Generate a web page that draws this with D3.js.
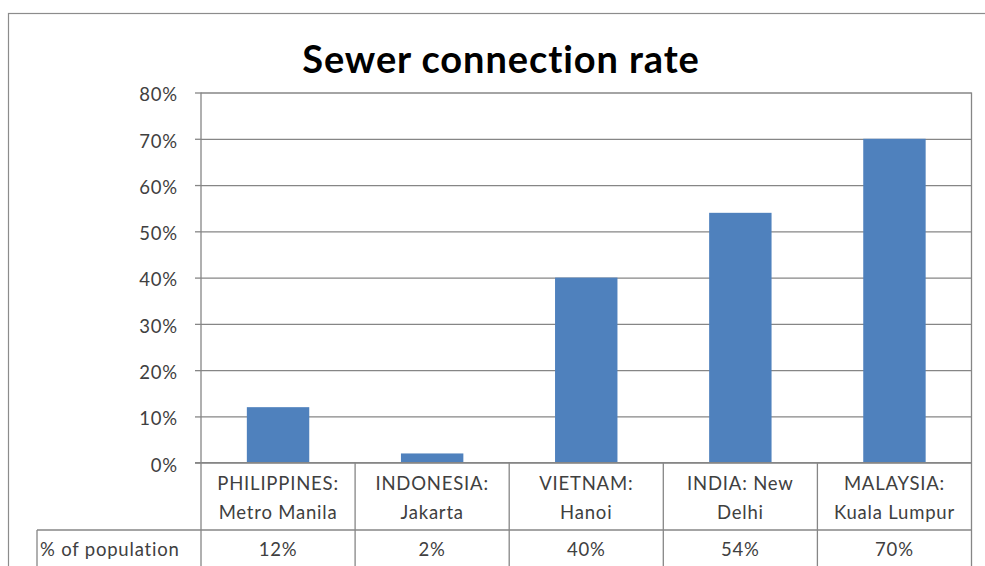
<!DOCTYPE html>
<html>
<head>
<meta charset="utf-8">
<script src="https://cdn.jsdelivr.net/npm/d3@7"></script>
<style>
  html, body { margin: 0; padding: 0; background: #fff; }
  svg { display: block; }
  text { font-family: Lato, "Open Sans", sans-serif; }
</style>
</head>
<body>
<svg id="chart" width="985" height="566"></svg>
<script>
// Sewer connection rate by city, share of population served
const categories = ["PHILIPPINES: Metro Manila", "INDONESIA: Jakarta", "VIETNAM: Hanoi", "INDIA: New Delhi", "MALAYSIA: Kuala Lumpur"];
const categoryLines = [["PHILIPPINES:", "Metro Manila"], ["INDONESIA:", "Jakarta"], ["VIETNAM:", "Hanoi"], ["INDIA: New", "Delhi"], ["MALAYSIA:", "Kuala Lumpur"]];
const values = [0.12, 0.02, 0.40, 0.54, 0.70];
const seriesName = "% of population";
const yTicks = [0, 0.1, 0.2, 0.3, 0.4, 0.5, 0.6, 0.7, 0.8];
const title = "Sewer connection rate";

const svg = d3.select("#chart");
const plot = { left: 201, right: 971.5, top: 92.5, bottom: 462.7 };
const tableRow1 = 530, tableRow2 = 580, keyLeft = 37;
const gridColor = "#868686";
const textColor = "#404040";
const barColor = "#4F81BD";
const labelSize = 18.5, labelSpacing = 0.8;

// Outer chart frame
svg.append("rect")
  .attr("x", 8.5).attr("y", 13.5).attr("width", 1000).attr("height", 600)
  .attr("fill", "none").attr("stroke", "#8c8c8c").attr("stroke-width", 1.2);

svg.append("text")
  .attr("x", 501).attr("y", 72.5)
  .attr("text-anchor", "middle")
  .attr("font-size", 38).attr("font-weight", "bold").attr("fill", "#000")
  .attr("letter-spacing", 0.9)
  .text(title);

const x = d3.scaleBand().domain(categories).range([plot.left, plot.right]).padding(0);
const y = d3.scaleLinear().domain([0, 0.8]).range([plot.bottom, plot.top]);
const barW = x.bandwidth() * 0.405;

// Horizontal gridlines
svg.append("g")
  .attr("transform", `translate(${plot.left},0)`)
  .call(d3.axisLeft(y).tickValues(yTicks).tickSize(-(plot.right - plot.left)).tickFormat(""))
  .call(g => g.select(".domain").remove())
  .call(g => g.selectAll("line").attr("stroke", gridColor).attr("stroke-width", 1.3));

// Bars
svg.append("g").selectAll("rect")
  .data(values)
  .join("rect")
  .attr("x", (d, i) => x(categories[i]) + (x.bandwidth() - barW) / 2)
  .attr("width", barW)
  .attr("y", d => y(d))
  .attr("height", d => y(0) - y(d))
  .attr("fill", barColor);

// Y axis with percent labels
svg.append("g")
  .attr("transform", `translate(${plot.left},0)`)
  .call(d3.axisLeft(y).tickValues(yTicks).tickSizeInner(6).tickSizeOuter(0).tickPadding(17).tickFormat(d3.format(".0%")))
  .call(g => g.select(".domain").attr("stroke", gridColor).attr("stroke-width", 1.3)
    .attr("d", `M0,${plot.top}V${tableRow2}`))
  .call(g => g.selectAll("line").attr("stroke", gridColor).attr("stroke-width", 1.3))
  .call(g => g.selectAll("text").attr("font-size", labelSize).attr("fill", textColor)
    .attr("letter-spacing", labelSpacing).attr("dy", "0.45em")
    .attr("font-family", "Lato, 'Open Sans', sans-serif"));

// Right edge of the plot / table
svg.append("line")
  .attr("x1", plot.right).attr("x2", plot.right).attr("y1", plot.top).attr("y2", tableRow2)
  .attr("stroke", gridColor).attr("stroke-width", 1.3);

// Data table below the axis
const table = svg.append("g");
table.append("line")
  .attr("x1", plot.left - 6).attr("x2", plot.right).attr("y1", plot.bottom).attr("y2", plot.bottom)
  .attr("stroke", gridColor).attr("stroke-width", 1.3);
table.append("line")
  .attr("x1", keyLeft).attr("x2", plot.right).attr("y1", tableRow1).attr("y2", tableRow1)
  .attr("stroke", gridColor).attr("stroke-width", 1.3);
table.append("line")
  .attr("x1", keyLeft).attr("x2", keyLeft).attr("y1", tableRow1).attr("y2", tableRow2)
  .attr("stroke", gridColor).attr("stroke-width", 1.3);
table.selectAll("line.col")
  .data(categories.slice(1))
  .join("line")
  .attr("class", "col")
  .attr("x1", d => x(d)).attr("x2", d => x(d))
  .attr("y1", plot.bottom).attr("y2", tableRow2)
  .attr("stroke", gridColor).attr("stroke-width", 1.3);

table.selectAll("text.cat")
  .data(categoryLines)
  .join("text")
  .attr("class", "cat")
  .attr("text-anchor", "middle")
  .attr("font-size", labelSize).attr("fill", textColor)
  .attr("letter-spacing", labelSpacing)
  .each(function (lines, i) {
    const cx = x(categories[i]) + x.bandwidth() / 2;
    d3.select(this).selectAll("tspan")
      .data(lines)
      .join("tspan")
      .attr("x", cx)
      .attr("y", (d, j) => 489.5 + j * 29)
      .text(d => d);
  });

table.selectAll("text.val")
  .data(values)
  .join("text")
  .attr("class", "val")
  .attr("text-anchor", "middle")
  .attr("font-size", labelSize).attr("fill", textColor)
  .attr("letter-spacing", labelSpacing)
  .attr("x", (d, i) => x(categories[i]) + x.bandwidth() / 2)
  .attr("y", 555.5)
  .text(d => d3.format(".0%")(d));

table.append("text")
  .attr("x", 40).attr("y", 555.5)
  .attr("font-size", labelSize).attr("fill", textColor)
  .attr("letter-spacing", labelSpacing)
  .text(seriesName);
</script>
</body>
</html>
